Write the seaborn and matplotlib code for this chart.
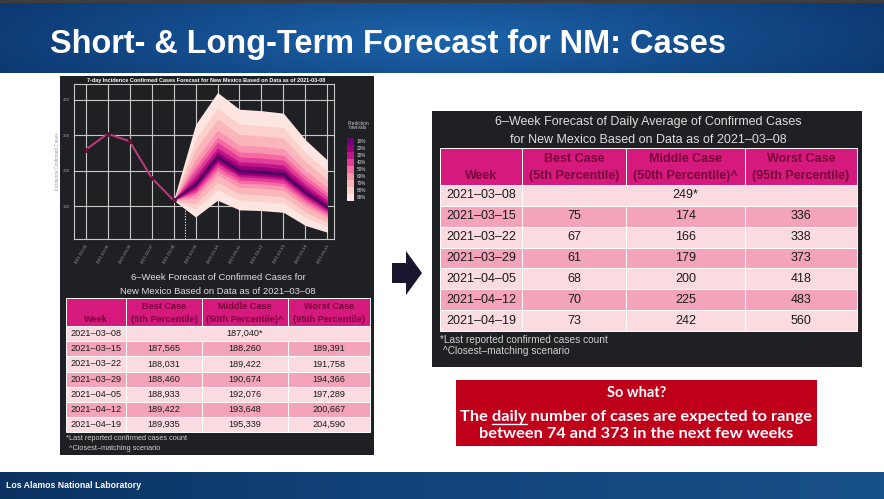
import numpy as np
import pandas as pd
import matplotlib
matplotlib.use("Agg")
import matplotlib.pyplot as plt
import seaborn as sns
from matplotlib.patches import Rectangle, Polygon
from matplotlib.colors import LinearSegmentedColormap
from matplotlib import font_manager as fm

# ---------------- data ----------------
axis_weeks = ["2021-03-04", "2021-03-05", "2021-03-06", "2021-03-07", "2021-03-08", "2021-03-09",
              "2021-03-10", "2021-03-11", "2021-03-12", "2021-03-13", "2021-03-14", "2021-03-15"]
observed_weeks = axis_weeks[:5]
observed_cases = [259, 304, 283, 180, 117]
forecast_weeks = axis_weeks[4:]
median_cases = [117, 161, 238, 199, 196, 190, 139, 97]

interval_levels = ["10%", "20%", "30%", "40%", "50%", "60%", "70%", "80%", "90%"]
lo10 = [117, 157, 233, 194, 191, 185, 135, 94]
hi10 = [117, 169, 246, 207, 204, 198, 146, 103]
lo20 = [117, 153, 227, 189, 186, 180, 131, 91]
hi20 = [117, 176, 254, 215, 212, 205, 152, 109]
lo30 = [117, 147, 220, 183, 180, 174, 125, 86]
hi30 = [117, 186, 265, 225, 222, 216, 161, 117]
lo40 = [117, 140, 210, 174, 171, 165, 118, 81]
hi40 = [117, 200, 280, 239, 236, 230, 173, 128]
lo50 = [117, 133, 200, 165, 163, 157, 110, 75]
hi50 = [117, 213, 294, 253, 250, 243, 185, 138]
lo60 = [117, 123, 187, 153, 151, 145, 100, 68]
hi60 = [117, 232, 314, 272, 269, 262, 201, 153]
lo70 = [117, 107, 167, 135, 132, 127, 84, 56]
hi70 = [117, 261, 345, 302, 298, 291, 226, 175]
lo80 = [117, 92, 146, 116, 114, 109, 68, 44]
hi80 = [117, 289, 376, 331, 327, 321, 251, 198]
lo90 = [117, 70, 117, 90, 88, 83, 46, 27]
hi90 = [117, 330, 420, 373, 369, 362, 287, 230]
band_lows = [lo10, lo20, lo30, lo40, lo50, lo60, lo70, lo80, lo90]
band_highs = [hi10, hi20, hi30, hi40, hi50, hi60, hi70, hi80, hi90]
y_ticks = [100, 200, 300, 400]

table_weeks = ["2021–03–08", "2021–03–15", "2021–03–22", "2021–03–29",
               "2021–04–05", "2021–04–12", "2021–04–19"]
cum_best = ["", "187,565", "188,031", "188,460", "188,933", "189,422", "189,935"]
cum_middle = ["187,040*", "188,260", "189,422", "190,674", "192,076", "193,648", "195,339"]
cum_worst = ["", "189,391", "191,758", "194,366", "197,289", "200,667", "204,590"]
daily_best = ["", "75", "67", "61", "68", "70", "73"]
daily_middle = ["249*", "174", "166", "179", "200", "225", "242"]
daily_worst = ["", "336", "338", "373", "418", "483", "560"]
header_line1 = ["", "Best Case", "Middle Case", "Worst Case"]
header_line2 = ["Week", "(5th Percentile)", "(50th Percentile)^", "(95th Percentile)"]

# ---------------- fonts / colors ----------------
avail = {f.name for f in fm.fontManager.ttflist}
def pick(*names):
    for n in names:
        if n in avail:
            return n
    return "DejaVu Sans"
TITLE_FONT = pick("Liberation Sans Narrow", "Liberation Sans")
BODY_FONT = pick("Liberation Sans", "Arial", "DejaVu Sans")
BOX_FONT = pick("Lato", "Open Sans", "DejaVu Sans")

sns.set_theme(style="dark")
plt.rcParams["font.family"] = [BODY_FONT, "DejaVu Sans"]

DARK = "#1f2024"
HEAD_BG = "#d6197c"
HEAD_TX = "#76063c"
ROW_LIGHT = "#fadbe0"
ROW_DARK = "#f3a4bb"
GRID = "#c8c8c8"

W, H = 884, 499
fig = plt.figure(figsize=(W / 100, H / 100), dpi=100)
fig.patch.set_facecolor("white")
bg = fig.add_axes([0, 0, 1, 1])
bg.set_xlim(0, W)
bg.set_ylim(H, 0)
bg.axis("off")
renderer = fig.canvas.get_renderer()

def fit(txt, target_w):
    bb = txt.get_window_extent(renderer=renderer)
    txt.set_fontsize(txt.get_fontsize() * target_w / bb.width)
    return txt

# ---------------- header / footer ----------------
gx = np.linspace(-1, 1, 400)
gy = np.linspace(-1, 1, 60)
GX, GY = np.meshgrid(gx, gy)
R = np.sqrt((GX * 0.95) ** 2 + (GY * 0.45) ** 2)
head_cmap = LinearSegmentedColormap.from_list("h", ["#1d64ab", "#0c3871"])
bg.imshow(R, extent=(0, W, 73, 3), cmap=head_cmap, aspect="auto", vmin=0, vmax=1.05, zorder=1)
bg.add_patch(Rectangle((0, 0), W, 3, fc="#3d3d3d", ec="none", zorder=2))
t = bg.text(50, 53, "Short- & Long-Term Forecast for NM: Cases", color="white",
            fontsize=24, fontweight="bold", family=TITLE_FONT, ha="left", va="baseline", zorder=3)
fit(t, 678)

foot = np.tile(np.linspace(0, 1, 300), (10, 1))
foot_cmap = LinearSegmentedColormap.from_list("f", ["#0b3362", "#12457c", "#185089"])
bg.imshow(foot, extent=(0, W, H, 472), cmap=foot_cmap, aspect="auto", zorder=1)
bg.text(6, 486, "Los Alamos National Laboratory", color="white", fontsize=6.3,
        fontweight="bold", ha="left", va="center", zorder=3)

# ---------------- panels ----------------
bg.add_patch(Rectangle((60, 76), 314, 379, fc=DARK, ec="none", zorder=1))
bg.add_patch(Rectangle((432, 111), 430, 256, fc=DARK, ec="none", zorder=1))

# ---------------- fan chart ----------------
ax = fig.add_axes([74 / W, 1 - 239 / H, 260 / W, 155 / H])
ax.set_facecolor(DARK)
pos = {w: i for i, w in enumerate(axis_weeks)}
obs_df = pd.DataFrame({"week": observed_weeks, "cases": observed_cases})
obs_df["x"] = obs_df["week"].map(pos)
fc_df = pd.DataFrame({"week": forecast_weeks, "median": median_cases})
fc_df["x"] = fc_df["week"].map(pos)

fan_colors = sns.color_palette("RdPu_r", len(interval_levels))
for lo, hi, col in reversed(list(zip(band_lows, band_highs, fan_colors))):
    ax.fill_between(fc_df["x"], lo, hi, color=col, lw=0, zorder=2)
sns.lineplot(data=fc_df, x="x", y="median", ax=ax, color="#3a0648", lw=1.0, zorder=3)
sns.lineplot(data=obs_df, x="x", y="cases", ax=ax, color="#c23a7c", lw=1.4, marker="o",
             markersize=2.6, markeredgecolor="#4a0a2a", markerfacecolor="#7a1a4a", zorder=4)
split_x = (pos[forecast_weeks[0]] + pos[forecast_weeks[1]]) / 2
ax.vlines(split_x, 8, 131, colors="white", linestyles=(0, (1, 1.5)), lw=0.8, zorder=1.5)

ax.set_xlim(-0.53, len(axis_weeks) - 1 + 0.3)
ax.set_ylim(8, 444)
ax.set_xticks(range(len(axis_weeks)))
ax.set_xticklabels(axis_weeks, rotation=60, ha="right", rotation_mode="anchor",
                   fontsize=3.2, color="#9a9a9a")
ax.set_yticks(y_ticks)
ax.set_yticklabels([str(v) for v in y_ticks], fontsize=3.2, color="#9a9a9a")
ax.tick_params(axis="both", length=1.5, width=0.5, color=GRID, pad=1.5)
ax.grid(True, color=GRID, lw=0.8)
ax.set_axisbelow(True)
for s in ax.spines.values():
    s.set_color(GRID)
    s.set_linewidth(0.8)
ax.set_xlabel("")
ax.set_ylabel("Incidence Confirmed Cases", fontsize=3.3, color="#9a9a9a", labelpad=2)

bg.text(206, 80, "7-day Incidence Confirmed Cases Forecast for New Mexico Based on Data as of 2021-03-08",
        color="white", fontsize=4, fontweight="bold", ha="center", va="center", zorder=3)

# legend (colorbar style)
bg.text(358, 125.5, "Prediction\nIntervals", color="#cccccc", fontsize=3.4, ha="center",
        va="center", linespacing=0.95, zorder=3)
leg_top, leg_h = 138, 7.0
for i, (lab, col) in enumerate(zip(interval_levels, fan_colors)):
    y0 = leg_top + i * leg_h
    bg.add_patch(Rectangle((347, y0), 6.5, leg_h, fc=col, ec="none", zorder=3))
    bg.text(357, y0 + leg_h / 2, lab, color="#dddddd", fontsize=3.4, ha="left", va="center", zorder=3)

# ---------------- tables ----------------
def draw_table(x_edges, y_top, head_h, row_h, cols, fs, pad, title_lines, title_y, title_fs,
               notes_y, notes_fs):
    cx = (x_edges[0] + x_edges[-1]) / 2
    for ty, tl in zip(title_y, title_lines):
        bg.text(cx, ty, tl, color="#dedede", fontsize=title_fs, ha="center", va="center", zorder=3)
    for j in range(len(x_edges) - 1):
        x0, x1 = x_edges[j], x_edges[j + 1]
        bg.add_patch(Rectangle((x0, y_top), x1 - x0, head_h, fc=HEAD_BG, ec="white", lw=0.7, zorder=2))
        xm = (x0 + x1) / 2
        if header_line1[j]:
            bg.text(xm, y_top + head_h * 0.29, header_line1[j], color=HEAD_TX, fontsize=fs,
                    fontweight="bold", ha="center", va="center", zorder=3)
        bg.text(xm, y_top + head_h * 0.77, header_line2[j], color=HEAD_TX, fontsize=fs,
                fontweight="bold", ha="center", va="center", zorder=3)
    for i in range(len(table_weeks)):
        y0 = y_top + head_h + i * row_h
        fc = ROW_LIGHT if i % 2 == 0 else ROW_DARK
        for j in range(len(x_edges) - 1):
            x0, x1 = x_edges[j], x_edges[j + 1]
            if i == 0 and j in (1, 2, 3):
                continue
            bg.add_patch(Rectangle((x0, y0), x1 - x0, row_h, fc=fc, ec="white", lw=0.7, zorder=2))
        if i == 0:
            bg.add_patch(Rectangle((x_edges[1], y0), x_edges[-1] - x_edges[1], row_h, fc=fc,
                                   ec="white", lw=0.7, zorder=2))
        bg.text(x_edges[0] + pad, y0 + row_h / 2, table_weeks[i], color="#1a1a1a", fontsize=fs,
                ha="left", va="center", zorder=3)
        for j, col in enumerate(cols):
            xm = (x_edges[j + 1] + x_edges[j + 2]) / 2
            bg.text(xm, y0 + row_h / 2, col[i], color="#1a1a1a", fontsize=fs,
                    ha="center", va="center", zorder=3)
    bg.text(x_edges[0], notes_y[0], "*Last reported confirmed cases count", color="#d0d0d0",
            fontsize=notes_fs, ha="left", va="center", zorder=3)
    bg.text(x_edges[0] + 3, notes_y[1], "^Closest–matching scenario", color="#d0d0d0",
            fontsize=notes_fs, ha="left", va="center", zorder=3)

draw_table([66, 126, 202, 288, 370], 298, 28, 15.2, [cum_best, cum_middle, cum_worst], 6.6, 4,
           ["6–Week Forecast of Confirmed Cases for", "New Mexico Based on Data as of 2021–03–08"],
           [278, 292], 6.8, [438, 449], 5.3)
draw_table([440, 522, 626, 745, 857], 148, 37, 20.86, [daily_best, daily_middle, daily_worst], 9.0, 6,
           ["6–Week Forecast of Daily Average of Confirmed Cases",
            "for New Mexico Based on Data as of 2021–03–08"],
           [122, 140], 9.0, [340, 351], 7.3)

# ---------------- arrow ----------------
bg.add_patch(Polygon([(392, 263), (406, 263), (406, 251), (422, 273), (406, 295), (406, 283),
                      (392, 283)], closed=True, fc="#1b1530", ec="none", zorder=2))

# ---------------- so-what box ----------------
bg.add_patch(Rectangle((456, 380), 361, 66, fc="#c0001a", ec="none", zorder=2))
bx = 636.5
bg.text(bx, 393, "So what?", color="white", fontsize=10.5, fontweight="bold", family=BOX_FONT,
        ha="center", va="center", zorder=3)
line2 = bg.text(bx, 417, "The daily number of cases are expected to range", color="white",
                fontsize=10.5, fontweight="bold", family=BOX_FONT, ha="center", va="center", zorder=3)
fit(line2, 354)
fs2 = line2.get_fontsize()
bg.text(bx, 434, "between 74 and 373 in the next few weeks", color="white", fontsize=fs2,
        fontweight="bold", family=BOX_FONT, ha="center", va="center", zorder=3)
# underline "daily"
bb_full = line2.get_window_extent(renderer=renderer)
tmp1 = bg.text(0, 0, "The ", fontsize=fs2, fontweight="bold", family=BOX_FONT)
tmp2 = bg.text(0, 0, "The daily", fontsize=fs2, fontweight="bold", family=BOX_FONT)
w1 = tmp1.get_window_extent(renderer=renderer).width
w2 = tmp2.get_window_extent(renderer=renderer).width
tmp1.remove()
tmp2.remove()
x_left = bx - bb_full.width / 2
bg.plot([x_left + w1, x_left + w2], [424, 424], color="white", lw=1.0, zorder=3)

fig.savefig("out.png", dpi=100, facecolor="white")
